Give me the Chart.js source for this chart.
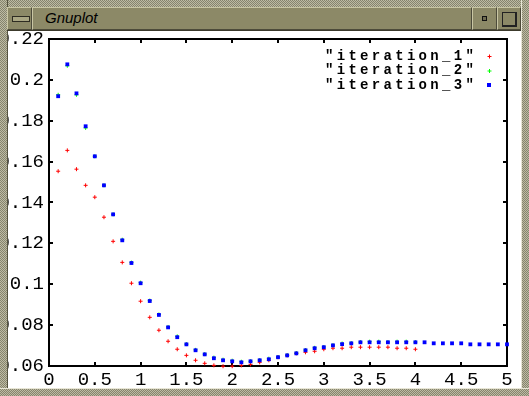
<!DOCTYPE html>
<html>
<head>
<meta charset="utf-8">
<title>Gnuplot</title>
<script src="https://cdn.jsdelivr.net/npm/chart.js@4.4.0/dist/chart.umd.min.js"></script>
<style>
    html, body { margin: 0; padding: 0; background: #fff; }
    #win { position: relative; width: 529px; height: 396px; overflow: hidden; }
    #plot { position: absolute; left: 0; top: 0; background: #fff; }
    .frame {
        position: absolute;
        background: repeating-conic-gradient(#bdbba4 0 25%, #86846d 0 50%) 0 0 / 2px 2px;
    }
    #titlebar {
        position: absolute; left: 7px; top: 7px; width: 514px; height: 24px;
        background: #8c8967;
        border-bottom: 1px solid #3c3a2c;
        box-sizing: border-box;
    }
    .btn, #title {
        position: absolute; top: 0; height: 23px; box-sizing: border-box;
        border-top: 1px solid #c9c6a4; border-left: 1px solid #c9c6a4;
        border-right: 1px solid #4d4b3a; border-bottom: 1px solid #4d4b3a;
    }
    #menuBtn { left: 0; width: 25px; }
    #menuBtn .bar {
        position: absolute; left: 4px; top: 8px; width: 16px; height: 4px;
        border: 1px solid #2e2c22; background: #a9a683;
    }
    #title {
        left: 25px; width: 440px;
        font: italic 15px "Liberation Sans", sans-serif; color: #000;
        padding-left: 12px; line-height: 20px;
    }
    #iconBtn { left: 465px; width: 25px; }
    #iconBtn .dot {
        position: absolute; left: 9px; top: 8px; width: 3px; height: 3px;
        border: 1px solid #111; background: #6f6c52;
    }
    #maxBtn { left: 490px; width: 24px; }
    #maxBtn .box {
        position: absolute; left: 4px; top: 4px; width: 12px; height: 12px;
        border: 1px solid #222; border-right-width: 2px; border-bottom-width: 2px;
        background: #8c8967;
    }
</style>
</head>
<body>
<div id="win">
    <canvas id="plot" width="529" height="396"></canvas>
    <div class="frame" style="left:0;top:0;width:529px;height:7px"></div>
    <div class="frame" style="left:0;top:0;width:8px;height:396px;border-right:1px solid #55533f;box-sizing:border-box"></div>
    <div class="frame" style="left:521px;top:0;width:8px;height:396px;border-left:1px solid #e8e6d6;box-sizing:border-box"></div>
    <div class="frame" style="left:0;top:388px;width:529px;height:8px;border-top:1px solid #e8e6d6;box-sizing:border-box"></div>
    <div id="titlebar">
        <div class="btn" id="menuBtn"><span class="bar"></span></div>
        <div id="title">Gnuplot</div>
        <div class="btn" id="iconBtn"><span class="dot"></span></div>
        <div class="btn" id="maxBtn"><span class="box"></span></div>
    </div>
</div>
<script>
"use strict";

// x positions of the samples (same for every iteration)
const xValues = [
    0.1, 0.2, 0.3, 0.4, 0.5, 0.6, 0.7, 0.8, 0.9, 1.0,
    1.1, 1.2, 1.3, 1.4, 1.5, 1.6, 1.7, 1.8, 1.9, 2.0,
    2.1, 2.2, 2.3, 2.4, 2.5, 2.6, 2.7, 2.8, 2.9, 3.0,
    3.1, 3.2, 3.3, 3.4, 3.5, 3.6, 3.7, 3.8, 3.9, 4.0,
    4.1, 4.2, 4.3, 4.4, 4.5, 4.6, 4.7, 4.8, 4.9, 5.0
];

const iteration1 = [
    0.1553, 0.1655, 0.1563, 0.1484, 0.1426, 0.1328, 0.1210, 0.1107, 0.1005, 0.0917,
    0.0838, 0.0775, 0.0721, 0.0682, 0.0652, 0.0628, 0.0613, 0.0603, 0.0599, 0.0599,
    0.0603, 0.0608, 0.0618, 0.0628, 0.0643, 0.0652, 0.0662, 0.0667, 0.0672, 0.0682,
    0.0687, 0.0687, 0.0692, 0.0692, 0.0692, 0.0692, 0.0692, 0.0687, 0.0687, 0.0682
];

const iteration2 = [
    0.1927, 0.2069, 0.1927, 0.1765, 0.1626, 0.1484, 0.1342, 0.1218, 0.1106, 0.1008,
    0.0920, 0.0852, 0.0791, 0.0745, 0.0707, 0.0679, 0.0658, 0.0641, 0.0631, 0.0626,
    0.0621, 0.0623, 0.0629, 0.0636, 0.0644, 0.0653, 0.0663, 0.0678, 0.0689, 0.0693,
    0.0702, 0.0710, 0.0712, 0.0717, 0.0719, 0.0719, 0.0717, 0.0719, 0.0719, 0.0717
];

const iteration3 = [
    0.1920, 0.2076, 0.1934, 0.1773, 0.1626, 0.1484, 0.1342, 0.1215, 0.1104, 0.1005,
    0.0918, 0.0850, 0.0789, 0.0741, 0.0706, 0.0677, 0.0657, 0.0638, 0.0628, 0.0623,
    0.0618, 0.0623, 0.0628, 0.0633, 0.0643, 0.0652, 0.0662, 0.0677, 0.0687, 0.0692,
    0.0701, 0.0707, 0.0711, 0.0716, 0.0716, 0.0716, 0.0716, 0.0716, 0.0716, 0.0716,
    0.0716, 0.0711, 0.0711, 0.0711, 0.0711, 0.0706, 0.0706, 0.0706, 0.0706, 0.0706
];

const seriesNames = ["iteration_1", "iteration_2", "iteration_3"];
const seriesColors = ["#ff0000", "#00ff00", "#0000ff"];

const toPoints = (ys) => ys.map((y, i) => ({ x: xValues[i], y }));

const fmt = (v) => String(Number(v.toFixed(2)));

// gnuplot style frame with inward ticks on all four sides
const frameBox = {
    id: "frameBox",
    beforeDatasetsDraw(chart) {
        const { ctx, chartArea: a, scales } = chart;
        ctx.save();
        ctx.strokeStyle = "#000";
        ctx.fillStyle = "#000";
        ctx.lineWidth = 2;
        ctx.strokeRect(a.left, a.top, a.right - a.left, a.bottom - a.top);
        scales.x.ticks.forEach((t) => {
            const px = Math.round(scales.x.getPixelForValue(t.value));
            ctx.fillRect(px - 1, a.bottom - 4, 2, 3);
            ctx.fillRect(px - 1, a.top + 1, 2, 3);
        });
        scales.y.ticks.forEach((t) => {
            const py = Math.round(scales.y.getPixelForValue(t.value));
            ctx.fillRect(a.left + 1, py - 1, 3, 2);
            ctx.fillRect(a.right - 4, py - 1, 3, 2);
        });
        ctx.restore();
    }
};

// key in the top right corner, text first, sample marker after
const keyBox = {
    id: "keyBox",
    afterDraw(chart) {
        const { ctx, chartArea: a } = chart;
        ctx.save();
        ctx.font = "bold 14px 'Liberation Mono', monospace";
        ctx.letterSpacing = "3.3px";
        ctx.textBaseline = "middle";
        chart.data.datasets.forEach((ds, i) => {
            const y = a.top + 17 + i * 14.5;
            ctx.fillStyle = "#000";
            ctx.fillText(`"${ds.label}"`, 325, y);
            const mx = a.right - 18;
            ctx.fillStyle = ds.pointBackgroundColor;
            ctx.strokeStyle = ds.pointBorderColor;
            if (ds.pointStyle === "rect") {
                ctx.fillRect(mx - 2, y - 2, 4, 4);
            } else {
                ctx.lineWidth = 1;
                ctx.beginPath();
                ctx.moveTo(mx - 1.5, y + 0.5);
                ctx.lineTo(mx + 2.5, y + 0.5);
                ctx.moveTo(mx + 0.5, y - 1.5);
                ctx.lineTo(mx + 0.5, y + 2.5);
                ctx.stroke();
            }
        });
        ctx.restore();
    }
};

const makeSet = (i, ys, style, radius, order) => ({
    label: seriesNames[i],
    data: toPoints(ys),
    pointStyle: style,
    pointRadius: radius,
    pointHoverRadius: radius,
    pointBorderWidth: style === "rect" ? 0 : 1,
    pointBackgroundColor: seriesColors[i],
    pointBorderColor: seriesColors[i],
    showLine: false,
    clip: false,
    order
});

new Chart(document.getElementById("plot"), {
    type: "scatter",
    data: {
        datasets: [
            makeSet(0, iteration1, "cross", 2, 3),
            makeSet(1, iteration2, "cross", 2, 2),
            makeSet(2, iteration3, "rect", 2.7, 1)
        ]
    },
    options: {
        responsive: false,
        animation: false,
        events: [],
        layout: { padding: { left: 0, top: 39, right: 22, bottom: 0 } },
        plugins: {
            legend: { display: false },
            tooltip: { enabled: false }
        },
        scales: {
            x: {
                type: "linear",
                min: 0,
                max: 5,
                afterFit: (scale) => { scale.height = 30; },
                grid: { display: false, drawTicks: false },
                border: { display: false },
                ticks: {
                    stepSize: 0.5,
                    autoSkip: false,
                    maxRotation: 0,
                    padding: 3,
                    color: "#000",
                    font: { family: "'Liberation Mono', monospace", size: 19 },
                    callback: (v) => fmt(v)
                }
            },
            y: {
                type: "linear",
                min: 0.06,
                max: 0.22,
                afterFit: (scale) => { scale.width = 49; },
                grid: { display: false, drawTicks: false },
                border: { display: false },
                ticks: {
                    stepSize: 0.02,
                    padding: 5,
                    color: "#000",
                    font: { family: "'Liberation Mono', monospace", size: 19 },
                    callback: (v) => fmt(v)
                }
            }
        }
    },
    plugins: [frameBox, keyBox]
});
</script>
</body>
</html>
